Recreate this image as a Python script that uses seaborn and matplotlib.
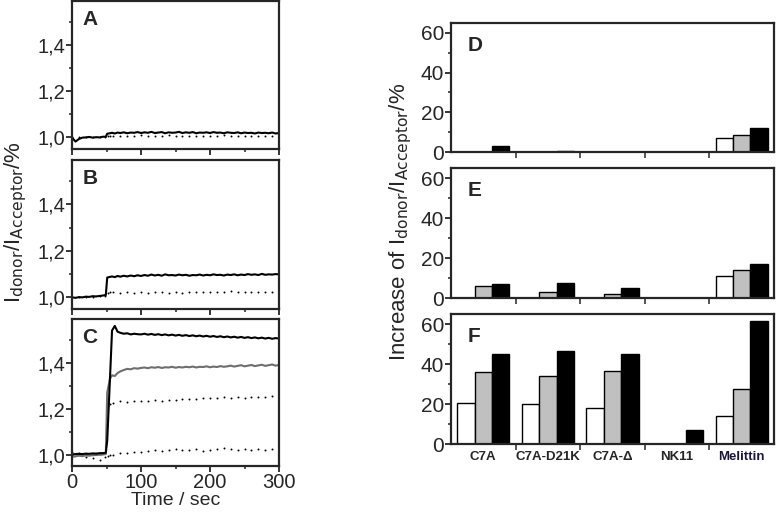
import numpy as np
import pandas as pd
import matplotlib
matplotlib.use('Agg')
import matplotlib.pyplot as plt
import seaborn as sns
from matplotlib.ticker import MultipleLocator, FuncFormatter

time_s = [0, 5, 10, 15, 20, 25, 30, 35, 40, 45, 49, 51,
          55, 58, 62, 66, 70, 75, 80, 85, 90, 95,
          100, 105, 110, 115, 120, 125, 130, 135, 140, 145,
          150, 155, 160, 165, 170, 175, 180, 185, 190, 195,
          200, 205, 210, 215, 220, 225, 230, 235, 240, 245,
          250, 255, 260, 265, 270, 275, 280, 285, 290, 295, 300]

a_solid = [1.000, 0.982, 0.993, 0.999, 1.000, 1.002, 0.999, 1.001, 1.000, 1.003, 1.003, 1.016,
           1.018, 1.020, 1.017, 1.021, 1.019, 1.022, 1.018, 1.021, 1.020, 1.023,
           1.019, 1.022, 1.020, 1.024, 1.019, 1.021, 1.023, 1.018, 1.022, 1.020,
           1.021, 1.024, 1.019, 1.022, 1.020, 1.023, 1.018, 1.021, 1.020, 1.022,
           1.019, 1.023, 1.020, 1.021, 1.018, 1.022, 1.020, 1.019, 1.022, 1.018,
           1.021, 1.019, 1.020, 1.017, 1.021, 1.019, 1.020, 1.018, 1.021, 1.017, 1.019]

b_solid = [1.000, 0.998, 1.001, 1.000, 1.003, 1.002, 1.005, 1.004, 1.006, 1.008, 1.010, 1.085,
           1.088, 1.090, 1.087, 1.092, 1.089, 1.093, 1.090, 1.094, 1.091, 1.095,
           1.092, 1.096, 1.093, 1.098, 1.094, 1.097, 1.093, 1.099, 1.095, 1.096,
           1.094, 1.098, 1.095, 1.097, 1.093, 1.096, 1.095, 1.098, 1.094, 1.097,
           1.095, 1.099, 1.096, 1.097, 1.094, 1.098, 1.096, 1.099, 1.095, 1.098,
           1.096, 1.100, 1.097, 1.099, 1.096, 1.101, 1.097, 1.099, 1.098, 1.100, 1.099]

c_black = [1.000, 1.002, 1.003, 1.002, 1.004, 1.003, 1.005, 1.004, 1.006, 1.006, 1.008, 1.060,
           1.330, 1.540, 1.560, 1.535, 1.530, 1.526, 1.528, 1.523, 1.526, 1.524,
           1.523, 1.526, 1.522, 1.525, 1.521, 1.524, 1.520, 1.523, 1.519, 1.522,
           1.518, 1.521, 1.517, 1.520, 1.516, 1.519, 1.515, 1.518, 1.514, 1.517,
           1.513, 1.516, 1.512, 1.515, 1.511, 1.514, 1.510, 1.513, 1.509, 1.512,
           1.508, 1.511, 1.507, 1.510, 1.506, 1.509, 1.505, 1.508, 1.504, 1.507, 1.505]

c_gray = [0.990, 0.992, 0.995, 0.993, 0.996, 0.995, 0.997, 0.998, 0.999, 1.000, 1.002, 1.270,
          1.330, 1.345, 1.342, 1.355, 1.362, 1.368, 1.373, 1.371, 1.376, 1.374,
          1.377, 1.379, 1.376, 1.380, 1.378, 1.381, 1.377, 1.380, 1.379, 1.382,
          1.378, 1.381, 1.379, 1.382, 1.380, 1.383, 1.379, 1.382, 1.381, 1.384,
          1.380, 1.383, 1.381, 1.385, 1.382, 1.384, 1.387, 1.383, 1.386, 1.389,
          1.384, 1.387, 1.390, 1.385, 1.388, 1.391, 1.386, 1.389, 1.392, 1.387, 1.390]

# dotted (sparse) traces
dot_time = [0, 10, 20, 30, 40, 48, 52, 55,
            60, 70, 80, 90, 100, 110, 120, 130, 140, 150, 160, 170, 180,
            190, 200, 210, 220, 230, 240, 250, 260, 270, 280, 290, 300]

a_dots = [1.000, 1.001, 1.000, 1.002, 1.001, 1.002, 1.005, 1.006,
          1.007, 1.006, 1.008, 1.007, 1.009, 1.006, 1.008, 1.007, 1.009, 1.006, 1.008,
          1.007, 1.005, 1.008, 1.006, 1.007, 1.009, 1.006, 1.004, 1.008, 1.007, 1.006,
          1.008, 1.007, 1.009]

b_dots = [1.000, 1.001, 1.002, 1.002, 1.004, 1.006, 1.020, 1.022,
          1.021, 1.018, 1.022, 1.020, 1.024, 1.019, 1.021, 1.023, 1.018, 1.022, 1.020,
          1.024, 1.021, 1.023, 1.025, 1.022, 1.024, 1.026, 1.023, 1.025, 1.022, 1.024,
          1.025, 1.023, 1.024]

c_dots_hi = [1.000, 1.002, 1.001, 1.003, 1.004, 1.005, 1.210, 1.220,
             1.225, 1.235, 1.230, 1.235, 1.232, 1.235, 1.237, 1.233, 1.238, 1.236, 1.240,
             1.240, 1.242, 1.245, 1.244, 1.247, 1.250, 1.246, 1.250, 1.248, 1.250, 1.252,
             1.250, 1.253, 1.255]

c_dots_lo = [1.010, 1.005, 0.990, 0.985, 0.975, 0.990, 0.995, 1.000,
             1.000, 1.005, 1.005, 1.010, 1.010, 1.015, 1.020, 1.015, 1.020, 1.025, 1.020,
             1.020, 1.025, 1.015, 1.020, 1.025, 1.030, 1.025, 1.020, 1.025, 1.020, 1.025,
             1.020, 1.025, 1.030]

# ---- bar data (panels D-F) ----
peptides = ['C7A', 'C7A-D21K', 'C7A-\u0394', 'NK11', 'Melittin']
levels = ['low', 'mid', 'high']
d_low = [0, 0, 0, 0, 7]
d_mid = [0, 0, 0, 0, 8.5]
d_high = [3, 0.6, 0, 0, 12]
e_low = [0, 0, 0, 0, 11]
e_mid = [6.2, 3, 2, 0, 14]
e_high = [7.2, 7.7, 5.2, 0, 17.2]
f_low = [20.5, 20, 18, 0, 14]
f_mid = [36, 34, 36.5, 0, 27.5]
f_high = [45, 46.7, 45, 7.2, 61.7]
bar_colors = ['white', '#c0c0c0', 'black']

sns.set_style('ticks')
plt.rcParams['font.family'] = ['Liberation Sans', 'DejaVu Sans']
plt.rcParams['axes.linewidth'] = 1.6
plt.rcParams['xtick.major.width'] = 1.3
plt.rcParams['ytick.major.width'] = 1.3
plt.rcParams['xtick.minor.width'] = 1.1
plt.rcParams['ytick.minor.width'] = 1.1

fig = plt.figure(figsize=(7.76, 5.13), dpi=100)

left_pos = [
    [0.0928, 0.7096, 0.2668, 0.2885],
    [0.0928, 0.3977, 0.2668, 0.2900],
    [0.0928, 0.0916, 0.2668, 0.2865],
]
right_pos = [
    [0.5812, 0.7037, 0.4162, 0.2515],
    [0.5812, 0.4191, 0.4162, 0.2534],
    [0.5812, 0.1345, 0.4162, 0.2534],
]

comma = FuncFormatter(lambda v, p: ('%.1f' % v).replace('.', ','))

left_solid = [[(a_solid, 'black')], [(b_solid, 'black')],
              [(c_gray, '#6e6e6e'), (c_black, 'black')]]
left_dots = [[a_dots], [b_dots], [c_dots_hi, c_dots_lo]]

for i, (pos, letter) in enumerate(zip(left_pos, 'ABC')):
    ax = fig.add_axes(pos)
    for vals in left_dots[i]:
        df = pd.DataFrame({'t': dot_time, 'y': vals})
        sns.scatterplot(data=df, x='t', y='y', ax=ax, color='black', s=2,
                        linewidth=0, legend=False)
    for vals, col in left_solid[i]:
        df = pd.DataFrame({'t': time_s, 'y': vals})
        sns.lineplot(data=df, x='t', y='y', ax=ax, color=col, lw=1.5,
                     estimator=None, sort=False)
    ax.set_xlim(0, 300)
    ax.set_ylim(0.95, 1.59)
    ax.xaxis.set_major_locator(MultipleLocator(100))
    ax.xaxis.set_minor_locator(MultipleLocator(50))
    ax.yaxis.set_major_locator(MultipleLocator(0.2))
    ax.yaxis.set_minor_locator(MultipleLocator(0.1))
    ax.yaxis.set_major_formatter(comma)
    ax.tick_params(which='major', length=4, labelsize=14.5, pad=1)
    ax.tick_params(which='minor', length=2.5)
    ax.set_xlabel('')
    ax.set_ylabel('')
    if letter != 'C':
        ax.set_xticklabels([])
    else:
        ax.set_xlabel('Time / sec', fontsize=14, labelpad=0)
    ax.text(0.05, 0.94, letter, transform=ax.transAxes, fontsize=15,
            fontweight='bold', va='top', ha='left')

bar_sets = [(d_low, d_mid, d_high), (e_low, e_mid, e_high), (f_low, f_mid, f_high)]
for i, (pos, letter) in enumerate(zip(right_pos, 'DEF')):
    ax = fig.add_axes(pos)
    low, mid, high = bar_sets[i]
    df = pd.DataFrame({
        'peptide': peptides * 3,
        'level': [levels[0]] * 5 + [levels[1]] * 5 + [levels[2]] * 5,
        'value': list(low) + list(mid) + list(high),
    })
    sns.barplot(data=df, x='peptide', y='value', hue='level', order=peptides,
                hue_order=levels, palette=bar_colors, width=0.81, ax=ax,
                edgecolor='black', linewidth=1.0, legend=False, errorbar=None)
    ax.set_xlim(-0.5, 4.5)
    ax.set_ylim(0, 65)
    ax.yaxis.set_major_locator(MultipleLocator(20))
    ax.yaxis.set_minor_locator(MultipleLocator(10))
    ax.set_xticks([0.5, 1.5, 2.5, 3.5], minor=True)
    ax.tick_params(axis='x', which='major', length=0, pad=5)
    ax.tick_params(axis='x', which='minor', length=4)
    ax.tick_params(axis='y', which='major', length=4, labelsize=15, pad=1)
    ax.tick_params(axis='y', which='minor', length=2.5)
    ax.set_xlabel('')
    ax.set_ylabel('')
    if letter == 'F':
        ax.set_xticks(range(5))
        ax.set_xticklabels(peptides, fontsize=9.5, fontweight='bold')
        ax.get_xticklabels()[-1].set_color('#1c1440')
    else:
        ax.set_xticklabels([])
    ax.text(0.05, 0.9, letter, transform=ax.transAxes, fontsize=15,
            fontweight='bold', va='top', ha='left')

fig.text(0.02, 0.567, r'I$_{\rm donor}$/I$_{\rm Acceptor}$/%', rotation=90,
         fontsize=16, ha='center', va='center')
fig.text(0.516, 0.567, r'Increase of I$_{\rm donor}$/I$_{\rm Acceptor}$/%', rotation=90,
         fontsize=16, ha='center', va='center')

fig.savefig('out.png', dpi=100, facecolor='white')
